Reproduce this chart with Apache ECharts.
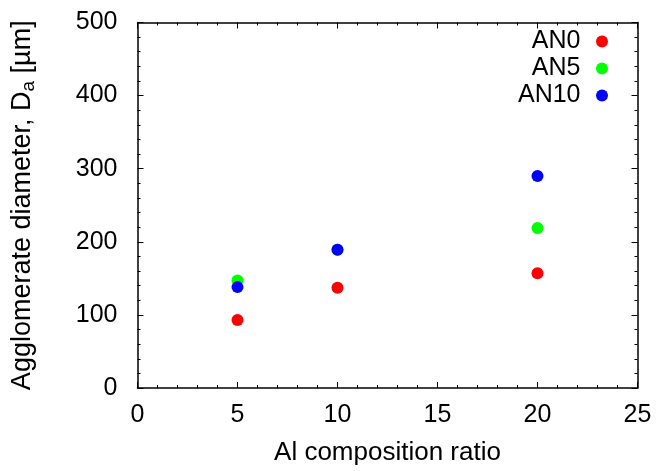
<!DOCTYPE html>
<html>
<head>
<meta charset="utf-8">
<script src="https://cdn.jsdelivr.net/npm/echarts@6/dist/echarts.min.js"></script>
<style>
  html, body { margin: 0; padding: 0; background: #fff; }
  #chart { width: 656px; height: 471px; }
</style>
</head>
<body>
<div id="chart"></div>
<script>
// Al composition ratio (x) and agglomerate diameter (µm) per binder type
const ratios = [5, 10, 20];
const an0 = [93, 137, 157];
const an5 = [147, 189, 219];
const an10 = [138, 189, 290];
const seriesNames = ['AN0', 'AN5', 'AN10'];
const seriesColors = ['#ff0000', '#00ff00', '#0000ff'];
const xTicks = [0, 5, 10, 15, 20, 25];
const yTicks = [0, 100, 200, 300, 400, 500];

const font = 'Liberation Sans, Arial, sans-serif';

function pairs(ys) {
  return ratios.map((x, i) => [x, ys[i]]);
}

const axisLine = { show: true, onZero: false, lineStyle: { color: '#000', width: 1.5 } };
const tickStyle = { color: '#000', width: 1 };

const chart = echarts.init(document.getElementById('chart'), null, { renderer: 'canvas' });

chart.setOption({
  backgroundColor: '#fff',
  animation: false,
  grid: { left: 137.5, right: 18.5, top: 22.5, bottom: 82 },
  legend: {
    orient: 'vertical',
    right: 48,
    top: 28,
    padding: 0,
    align: 'right',
    itemWidth: 33,
    itemHeight: 12,
    itemGap: 0,
    icon: 'circle',
    textStyle: { fontFamily: font, fontSize: 25, lineHeight: 27, color: '#000' },
    data: seriesNames
  },
  xAxis: [
    {
      type: 'value', min: xTicks[0], max: xTicks[xTicks.length - 1], interval: 5,
      position: 'bottom',
      name: 'Al composition ratio', nameLocation: 'middle', nameGap: 52,
      nameTextStyle: { fontFamily: font, fontSize: 26, color: '#000' },
      axisLine: axisLine,
      axisTick: { show: true, inside: true, length: 6, lineStyle: tickStyle },
      minorTick: { show: true, splitNumber: 5, length: 3, lineStyle: tickStyle },
      axisLabel: { fontFamily: font, fontSize: 25, color: '#000', margin: 15 },
      splitLine: { show: false }
    },
    {
      type: 'value', min: xTicks[0], max: xTicks[xTicks.length - 1], interval: 5,
      position: 'top',
      axisLine: axisLine,
      axisTick: { show: true, inside: true, length: 6, lineStyle: tickStyle },
      minorTick: { show: true, splitNumber: 5, length: 3, lineStyle: tickStyle },
      axisLabel: { show: false },
      splitLine: { show: false }
    }
  ],
  yAxis: [
    {
      type: 'value', min: yTicks[0], max: yTicks[yTicks.length - 1], interval: 100,
      position: 'left',
      name: 'Agglomerate diameter, D{sub|a} [µm]', nameLocation: 'middle', nameGap: 99,
      nameTextStyle: {
        fontFamily: font, fontSize: 27, color: '#000',
        rich: { sub: { fontFamily: font, fontSize: 19, color: '#000', verticalAlign: 'bottom', padding: [12, 0, 0, 0] } }
      },
      axisLine: axisLine,
      axisTick: { show: true, inside: true, length: 6, lineStyle: tickStyle },
      minorTick: { show: true, splitNumber: 5, length: 3, lineStyle: tickStyle },
      axisLabel: { fontFamily: font, fontSize: 25, color: '#000', margin: 20 },
      splitLine: { show: false }
    },
    {
      type: 'value', min: yTicks[0], max: yTicks[yTicks.length - 1], interval: 100,
      position: 'right',
      axisLine: axisLine,
      axisTick: { show: true, inside: true, length: 6, lineStyle: tickStyle },
      minorTick: { show: true, splitNumber: 5, length: 3, lineStyle: tickStyle },
      axisLabel: { show: false },
      splitLine: { show: false }
    }
  ],
  series: [an0, an5, an10].map((ys, i) => ({
    name: seriesNames[i],
    type: 'scatter',
    xAxisIndex: 0,
    yAxisIndex: 0,
    symbol: 'circle',
    symbolSize: 12,
    itemStyle: { color: seriesColors[i], opacity: 1 },
    data: pairs(ys)
  }))
});
</script>
</body>
</html>
